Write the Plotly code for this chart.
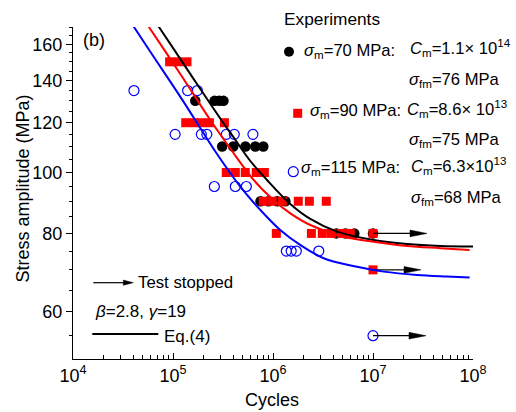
import numpy as np
import plotly.graph_objects as go

FONT = "Liberation Sans, Arial, sans-serif"

# ---------------- experimental results: cycles and stress amplitude (MPa) ----------------
# sigma_m = 70 MPa
n_70 = [1.67e5, 2.6e5, 2.9e5, 3.2e5,
        3.1e5, 4.0e5, 5.3e5, 6.65e5, 8.0e5,
        7.5e5, 9.0e5, 1.1e6, 1.33e6,
        4.3e6, 5.3e6, 6.5e6, 1.0e7]
s_70 = [130, 130, 130, 130,
        110, 110, 110, 110, 110,
        90, 90, 90, 90,
        80, 80, 80, 80]

# sigma_m = 90 MPa
n_90 = [9.25e4, 1.13e5, 1.38e5,
        1.34e5, 1.61e5, 1.92e5, 2.31e5, 3.27e5,
        3.41e5, 4.2e5, 5.28e5, 6.8e5, 8.2e5,
        8.0e5, 9.84e5, 1.24e6, 1.79e6, 2.31e6, 3.41e6,
        1.08e6, 2.42e6, 3.11e6, 3.83e6, 4.82e6, 5.93e6, 1.0e7,
        1.0e7]
s_90 = [150, 150, 150,
        120, 120, 120, 120, 120,
        100, 100, 100, 100, 100,
        90, 90, 90, 90, 90, 90,
        80, 80, 80, 80, 80, 80, 80,
        70]

# sigma_m = 115 MPa
n_115 = [4.07e4, 1.40e5, 1.75e5,
         1.05e5, 1.92e5, 2.18e5, 3.41e5, 4.1e5, 6.3e5,
         2.59e5, 4.2e5, 5.41e5,
         1.36e6, 1.52e6, 1.71e6, 2.87e6,
         1.0e7]
s_115 = [135, 135, 135,
         115, 115, 115, 115, 115, 115,
         95, 95, 95,
         75, 75, 75, 75,
         55]

# run-outs (test stopped)
runout_n = [1.0e7, 1.0e7, 1.0e7]
runout_s = [80, 70, 55]

# ---------------- Eq.(4) curves ----------------
fit_70_n = [7.18e4, 1.03e5, 1.71e5, 3.04e5, 4.20e5, 5.93e5, 8.71e5, 1.49e6,
            2.36e6, 4.30e6, 1.01e7, 2.19e7, 4.71e7, 1.0e8]
fit_70_s = [170.7, 156.7, 138.8, 121.2, 112.7, 104.3, 97.3, 89.1,
            84.35, 80.6, 78.1, 76.96, 76.4, 76.25]

fit_90_n = [5.70e4, 8.18e4, 1.36e5, 2.36e5, 3.83e5, 6.40e5, 1.01e6, 1.49e6,
            2.36e6, 4.71e6, 1.01e7, 2.19e7, 4.71e7, 9.25e7]
fit_90_s = [170.7, 156.7, 138.7, 121.2, 108.6, 97.3, 90.4, 86.1,
            82.5, 79.25, 77.6, 76.4, 75.8, 75.3]

fit_115_n = [4.04e4, 6.07e4, 1.24e5, 2.59e5, 4.71e5, 7.46e5, 1.18e6, 1.87e6,
             3.21e6, 6.92e6, 1.28e7, 2.75e7, 5.50e7, 9.25e7]
fit_115_s = [170.7, 154.8, 130.5, 108.6, 94.95, 87.2, 81.0, 76.7,
             73.05, 70.8, 69.55, 68.7, 68.3, 68.05]

x_tickvals = [1e4, 1e5, 1e6, 1e7, 1e8]
x_ticktext = ["10<sup>4</sup>", "10<sup>5</sup>", "10<sup>6</sup>", "10<sup>7</sup>", "10<sup>8</sup>"]
y_tickvals = [60, 80, 100, 120, 140, 160]
y_minor = [55, 65, 70, 75, 85, 90, 95, 105, 110, 115, 125, 130, 135, 145, 150, 155, 165, 170]
x_minor = [k * 10.0 ** d for d in range(4, 8) for k in range(2, 10)]

# ---------------- layout geometry (pixels) ----------------
W, H = 516, 412
ML, MR, MT, MB = 73, 43, 27, 53
PW, PH = W - ML - MR, H - MT - MB


def px(x):
    return (x - ML) / PW


def py(y):
    return (H - MB - y) / PH


fig = go.Figure()

# markers
fig.add_trace(go.Scatter(x=n_70, y=s_70, mode="markers",
                         marker=dict(symbol="circle", size=10.5, color="black", line=dict(width=0)),
                         showlegend=False))
fig.add_trace(go.Scatter(x=n_90, y=s_90, mode="markers",
                         marker=dict(symbol="square", size=9, color="#ff0000", line=dict(width=0)),
                         showlegend=False))
fig.add_trace(go.Scatter(x=n_115, y=s_115, mode="markers",
                         marker=dict(symbol="circle-open", size=10, color="#0000ff", line=dict(width=1.2)),
                         showlegend=False))

# run-out arrows
arrow_len = [0.54, 0.48, 0.53]   # decades
head_len = 0.17                  # decades
head_half = 0.0053               # decades of stress
for n0, s0, L in zip(runout_n, runout_s, arrow_len):
    tip = n0 * 10 ** L
    base = tip / 10 ** head_len
    fig.add_trace(go.Scatter(x=[n0, base], y=[s0, s0], mode="lines",
                             line=dict(color="black", width=1.2), showlegend=False,
                             hoverinfo="skip"))
    fig.add_trace(go.Scatter(x=[tip, base, base, tip],
                             y=[s0, s0 * 10 ** head_half, s0 / 10 ** head_half, s0],
                             mode="lines", fill="toself", fillcolor="black",
                             line=dict(color="black", width=0.5), showlegend=False,
                             hoverinfo="skip"))

# Eq.(4) curves
for nn, ss, col in [(fit_70_n, fit_70_s, "black"),
                    (fit_90_n, fit_90_s, "#ff0000"),
                    (fit_115_n, fit_115_s, "#0000ff")]:
    fig.add_trace(go.Scatter(x=nn, y=ss, mode="lines",
                             line=dict(color=col, width=2, shape="spline", smoothing=1.0),
                             showlegend=False))

axis_common = dict(showgrid=False, zeroline=False, showline=True, linecolor="black",
                   linewidth=1.2, tickcolor="black", tickwidth=1.2,
                   tickfont=dict(family=FONT, size=18, color="black"))

fig.update_xaxes(type="log", range=[4, 8], tickmode="array", tickvals=x_tickvals,
                 ticktext=x_ticktext, ticks="inside", ticklen=6,
                 minor=dict(tickvals=x_minor, ticks="inside", ticklen=3.5,
                            tickcolor="black", tickwidth=1, showgrid=False),
                 **axis_common)
fig.update_yaxes(type="log", range=[np.log10(50.5), np.log10(170.4)], tickmode="array",
                 tickvals=y_tickvals, ticktext=[str(v) for v in y_tickvals],
                 ticks="outside", ticklen=6,
                 minor=dict(tickvals=y_minor, ticks="outside", ticklen=3,
                            tickcolor="black", tickwidth=1, showgrid=False),
                 **axis_common)

# ---------------- legend / labels ----------------
shapes = [
    dict(type="circle", xref="paper", yref="paper", xsizemode="pixel", ysizemode="pixel",
         xanchor=px(289), yanchor=py(51.7), x0=-5, x1=5, y0=-5, y1=5,
         fillcolor="black", line=dict(width=0)),
    dict(type="rect", xref="paper", yref="paper", xsizemode="pixel", ysizemode="pixel",
         xanchor=px(297.7), yanchor=py(113.3), x0=-4.5, x1=4.5, y0=-4.5, y1=4.5,
         fillcolor="#ff0000", line=dict(width=0)),
    dict(type="circle", xref="paper", yref="paper", xsizemode="pixel", ysizemode="pixel",
         xanchor=px(293.3), yanchor=py(171.7), x0=-5, x1=5, y0=-5, y1=5,
         fillcolor="rgba(0,0,0,0)", line=dict(color="#0000ff", width=1.2)),
    # "Test stopped" arrow
    dict(type="line", xref="paper", yref="paper", x0=px(93.3), x1=px(124), y0=py(282.7), y1=py(282.7),
         line=dict(color="black", width=1.2)),
    dict(type="path", xref="paper", yref="paper", xsizemode="pixel", ysizemode="pixel",
         xanchor=px(133.3), yanchor=py(282.7), path="M0,0 L-10,2.6 L-10,-2.6 Z",
         fillcolor="black", line=dict(color="black", width=0.5)),
    # Eq.(4) line sample
    dict(type="line", xref="paper", yref="paper", x0=px(92.3), x1=px(158.3), y0=py(334), y1=py(334),
         line=dict(color="black", width=2)),
]

TXT = 16.6


def label(x, y, text, size=TXT):
    return dict(x=px(x), y=py(y), xref="paper", yref="paper", text=text, showarrow=False,
                xanchor="left", yanchor="middle", font=dict(family=FONT, size=size, color="black"),
                borderpad=0)


annotations = [
    # axis titles
    dict(x=px(22.5), y=py(189), xref="paper", yref="paper", text="Stress amplitude (MPa)",
         showarrow=False, textangle=-90, xanchor="center", yanchor="middle",
         font=dict(family=FONT, size=18, color="black")),
    dict(x=px(272), y=py(400), xref="paper", yref="paper", text="Cycles",
         showarrow=False, xanchor="center", yanchor="middle",
         font=dict(family=FONT, size=18, color="black")),
    label(82, 40, "(b)", 18),
    label(283, 19.2, "Experiments", 17.3),
    label(303.3, 50.6, "<i>σ</i><sub>m</sub>=70 MPa:"),
    label(408.5, 47.7, "<i>C</i><sub>m</sub>=1.1× 10<sup>14</sup>"),
    label(408.3, 79.8, "<i>σ</i><sub>fm</sub>=76 MPa"),
    label(309, 111.3, "<i>σ</i><sub>m</sub>=90 MPa:"),
    label(405.5, 108.4, "<i>C</i><sub>m</sub>=8.6× 10<sup>13</sup>"),
    label(407.7, 140.3, "<i>σ</i><sub>fm</sub>=75 MPa"),
    label(300, 168.3, "<i>σ</i><sub>m</sub>=115 MPa:"),
    label(410, 165.4, "<i>C</i><sub>m</sub>=6.3×10<sup>13</sup>"),
    label(410, 198.3, "<i>σ</i><sub>fm</sub>=68 MPa"),
    label(137, 282, "Test stopped", 16.8),
    label(94.3, 311, "<i>β</i>=2.8, <i>γ</i>=19", 17),
    label(163.3, 336, "Eq.(4)", 17),
]

fig.update_layout(width=W, height=H, margin=dict(l=ML, r=MR, t=MT, b=MB, pad=0),
                  paper_bgcolor="white", plot_bgcolor="white",
                  font=dict(family=FONT, color="black"),
                  shapes=shapes, annotations=annotations, showlegend=False)

fig.write_html("out.html")
